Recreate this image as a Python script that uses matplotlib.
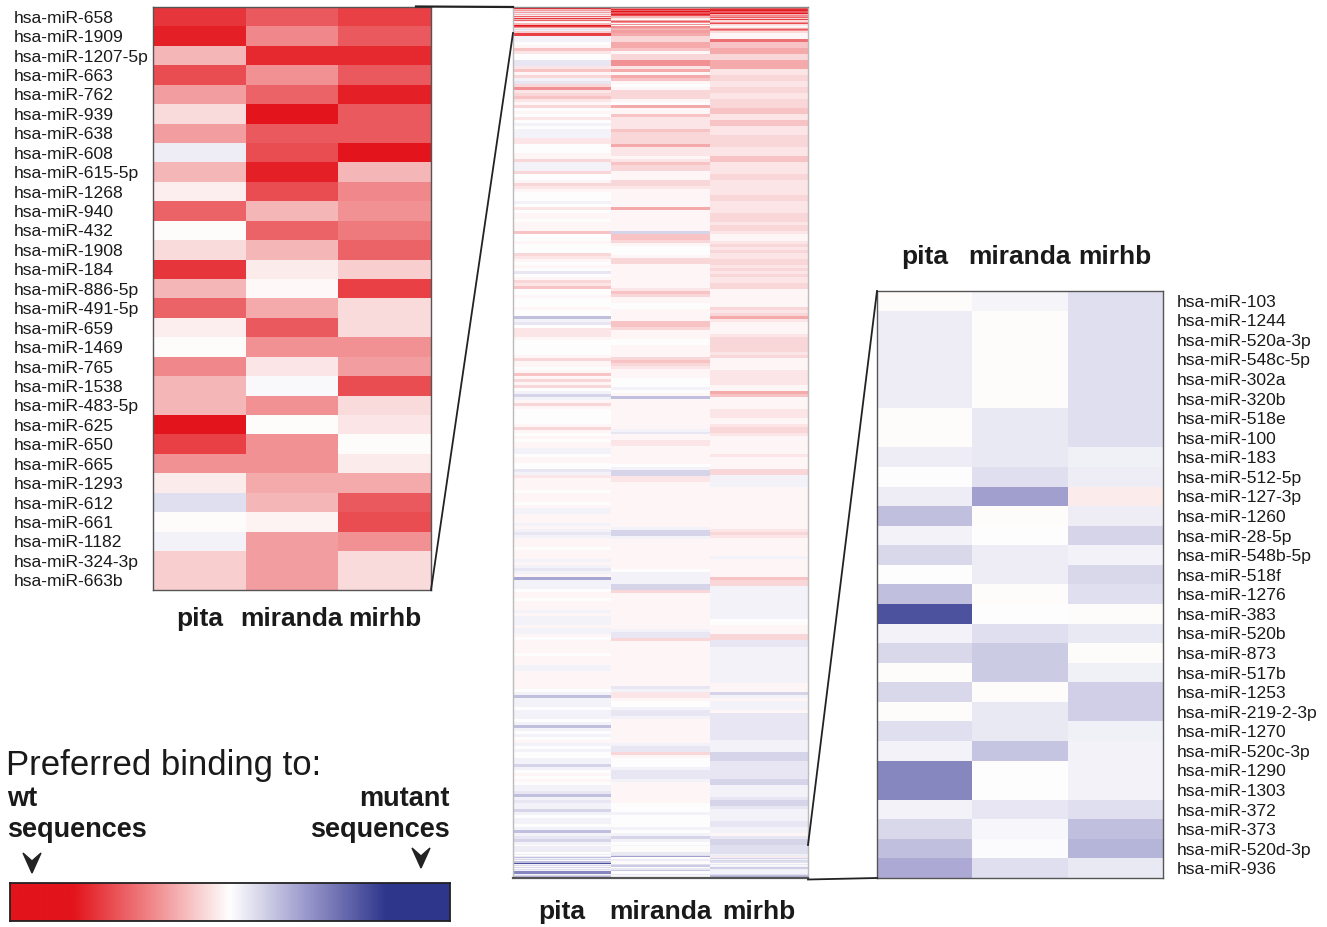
import numpy as np
import matplotlib
matplotlib.use('Agg')
import matplotlib.pyplot as plt
from matplotlib.colors import LinearSegmentedColormap
from matplotlib.patches import Polygon

plt.rcParams['font.family'] = ['Liberation Sans', 'DejaVu Sans']

W, H = 1327, 927
methods = ['pita', 'miranda', 'mirhb']

# ---- top 30 miRNAs (preferred binding to wt; negative = red) ----
top_mirnas = ['hsa-miR-658', 'hsa-miR-1909', 'hsa-miR-1207-5p', 'hsa-miR-663', 'hsa-miR-762',
              'hsa-miR-939', 'hsa-miR-638', 'hsa-miR-608', 'hsa-miR-615-5p', 'hsa-miR-1268',
              'hsa-miR-940', 'hsa-miR-432', 'hsa-miR-1908', 'hsa-miR-184', 'hsa-miR-886-5p',
              'hsa-miR-491-5p', 'hsa-miR-659', 'hsa-miR-1469', 'hsa-miR-765', 'hsa-miR-1538',
              'hsa-miR-483-5p', 'hsa-miR-625', 'hsa-miR-650', 'hsa-miR-665', 'hsa-miR-1293',
              'hsa-miR-612', 'hsa-miR-661', 'hsa-miR-1182', 'hsa-miR-324-3p', 'hsa-miR-663b']
top_pita = [-0.85, -0.95, -0.30, -0.75, -0.40, -0.15, -0.40, 0.08, -0.30, -0.07,
            -0.65, -0.02, -0.15, -0.85, -0.30, -0.65, -0.07, -0.02, -0.50, -0.30,
            -0.30, -1.00, -0.80, -0.45, -0.08, 0.15, -0.02, 0.06, -0.20, -0.20]
top_miranda = [-0.70, -0.50, -0.90, -0.45, -0.65, -1.00, -0.70, -0.75, -0.95, -0.75,
               -0.30, -0.65, -0.30, -0.08, -0.03, -0.35, -0.70, -0.45, -0.10, 0.03,
               -0.45, -0.02, -0.45, -0.45, -0.35, -0.30, -0.05, -0.40, -0.40, -0.40]
top_mirhb = [-0.80, -0.70, -0.90, -0.70, -0.95, -0.70, -0.70, -1.00, -0.30, -0.50,
             -0.45, -0.55, -0.65, -0.20, -0.80, -0.15, -0.15, -0.45, -0.40, -0.75,
             -0.15, -0.10, -0.02, -0.08, -0.35, -0.70, -0.75, -0.45, -0.15, -0.15]

# ---- bottom 30 miRNAs (preferred binding to mutant; positive = blue) ----
bottom_mirnas = ['hsa-miR-103', 'hsa-miR-1244', 'hsa-miR-520a-3p', 'hsa-miR-548c-5p', 'hsa-miR-302a',
                 'hsa-miR-320b', 'hsa-miR-518e', 'hsa-miR-100', 'hsa-miR-183', 'hsa-miR-512-5p',
                 'hsa-miR-127-3p', 'hsa-miR-1260', 'hsa-miR-28-5p', 'hsa-miR-548b-5p', 'hsa-miR-518f',
                 'hsa-miR-1276', 'hsa-miR-383', 'hsa-miR-520b', 'hsa-miR-873', 'hsa-miR-517b',
                 'hsa-miR-1253', 'hsa-miR-219-2-3p', 'hsa-miR-1270', 'hsa-miR-520c-3p', 'hsa-miR-1290',
                 'hsa-miR-1303', 'hsa-miR-372', 'hsa-miR-373', 'hsa-miR-520d-3p', 'hsa-miR-936']
bottom_pita = [-0.02, 0.08, 0.08, 0.08, 0.08, 0.08, -0.02, -0.02, 0.08, -0.01,
               0.08, 0.30, 0.06, 0.18, -0.01, 0.30, 0.85, 0.06, 0.18, -0.02,
               0.18, -0.02, 0.15, 0.06, 0.57, 0.57, 0.06, 0.18, 0.30, 0.40]
bottom_miranda = [0.05, -0.02, -0.02, -0.02, -0.02, -0.02, 0.10, 0.10, 0.10, 0.15,
                  0.45, -0.02, -0.01, 0.08, 0.08, -0.02, -0.01, 0.15, 0.25, 0.25,
                  -0.02, 0.10, 0.10, 0.28, -0.01, -0.01, 0.12, 0.04, 0.02, 0.15]
bottom_mirhb = [0.15, 0.15, 0.15, 0.15, 0.15, 0.15, 0.15, 0.15, 0.07, 0.08,
                -0.08, 0.08, 0.20, 0.06, 0.18, 0.15, -0.02, 0.10, -0.02, 0.07,
                0.22, 0.22, 0.07, 0.06, 0.06, 0.06, 0.15, 0.30, 0.35, 0.10]

# ---- all remaining miRNAs in the overview (coded levels) ----
level_codes = {'0': 0.0, '1': -0.04, '2': -0.10, '3': -0.17, '4': -0.25, '5': -0.35,
               '6': -0.45, '7': -0.60, '8': -0.80, '9': -1.00,
               'a': 0.06, 'b': 0.12, 'c': 0.20, 'd': 0.30, 'e': 0.42,
               'f': 0.55, 'g': 0.70, 'h': 0.85, 'i': 1.00}
mid_pita = ("8aa014200bb2413ab3623421301020"
            "a0aaa22000113aaa3001321000a020"
            "1101114001000321010b0132400100"
            "0100dab0222100000131101413130a"
            "ca1310000013101011aa01100ba211"
            "11011101aa111a1aba1110111a1aba"
            "1eaaa0110111a1aaa1aa1011110111"
            "aa1111110adaaa0aaa0ada0a01a0a0"
            "0aaca01010aabdabaaca0aa0adabca")
mid_miranda = ("533554133662515410133310511422"
               "224333352221243311133211111151"
               "111111c443100013311111111243110"
               "011114431110011113432111000a01"
               "d1111111111ab11221111110acc221"
               "11111111111111acca11111111110a"
               "aaacc3111111111111abb311111111"
               "1111111ba22100abba11111111abb3"
               "1000abbba1111111000a0000a0aca0")
mid_mirhb = ("117445533555223322332233344224"
             "422233332224422223322222332222"
             "333233211232322332323223311111"
             "132352111123333323111122222115"
             "411112221123321111112111133aaa"
             "a11111111111111232111111a11111"
             "1433aaaaaaaaaaa0011133bbaaaaaa"
             "aaaaaa111ca1aaa1bbbbbbbbbaaaac"
             "ccbbbbbbccaaaabccbaaaabbaa1bcc")

# scale limits (the colour bar shows a saturated margin beyond |1|)
VLIM = 1.4

ink = '#1a1a1a'
red_end = (227/255, 20/255, 27/255)
red_mid = (240/255, 135/255, 138/255)
blue_mid = (152/255, 150/255, 202/255)
blue_end = (46/255, 54/255, 140/255)


def pos(v):
    return (v + VLIM) / (2 * VLIM)


cmap = LinearSegmentedColormap.from_list('wtmut', [
    (0.0, red_end), (pos(-1.0), red_end), (pos(-0.5), red_mid), (0.5, (1, 1, 1)),
    (pos(0.5), blue_mid), (pos(1.0), blue_end), (1.0, blue_end)])
kw = dict(cmap=cmap, vmin=-VLIM, vmax=VLIM, aspect='auto', interpolation='nearest')


def px_axes(fig, x0, y0, x1, y1):
    return fig.add_axes([x0 / W, 1 - y1 / H, (x1 - x0) / W, (y1 - y0) / H])


fig = plt.figure(figsize=(W / 100, H / 100), dpi=100)

# ---------- left heatmap ----------
axL = px_axes(fig, 153, 7, 431, 590)
top_data = np.column_stack([top_pita, top_miranda, top_mirhb])
axL.imshow(top_data, **kw)
axL.set_yticks(range(len(top_mirnas)))
axL.set_yticklabels(top_mirnas, fontsize=12.6, color=ink)
for t in axL.get_yticklabels():
    t.set_ha('left')
axL.tick_params(axis='y', length=0, pad=100.5)
axL.set_xticks(range(3))
axL.set_xticklabels(methods, fontsize=19, fontweight='bold', color=ink)
axL.tick_params(axis='x', length=0, pad=12)
for s in axL.spines.values():
    s.set_color('#555555')
    s.set_linewidth(1.0)

# ---------- middle overview heatmap ----------
axM = px_axes(fig, 513, 7, 808, 878)
T = (33 - 7) / 871.0
B = (845 - 7) / 871.0
tops = [top_pita, top_miranda, top_mirhb]
bots = [bottom_pita, bottom_miranda, bottom_mirhb]
mids = [mid_pita, mid_miranda, mid_mirhb]
for c in range(3):
    axM.imshow(np.array(tops[c])[:, None], extent=(c, c + 1, T, 0), **kw)
    mid_vals = np.array([level_codes[ch] for ch in mids[c]])
    axM.imshow(mid_vals[:, None], extent=(c, c + 1, B, T), **kw)
    axM.imshow(np.array(bots[c])[:, None], extent=(c, c + 1, 1, B), **kw)
axM.set_xlim(0, 3)
axM.set_ylim(1, 0)
axM.set_yticks([])
axM.set_xticks([0.5, 1.5, 2.5])
axM.set_xticklabels(methods, fontsize=19, fontweight='bold', color=ink)
axM.tick_params(axis='x', length=0, pad=16)
for k, s in axM.spines.items():
    s.set_color('#bbbbbb')
    s.set_linewidth(1.0)
axM.spines['top'].set_color('#888888')
axM.spines['bottom'].set_color('#555555')
axM.spines['bottom'].set_linewidth(1.6)

# ---------- right heatmap ----------
axR = px_axes(fig, 877, 291, 1163, 878)
bot_data = np.column_stack([bottom_pita, bottom_miranda, bottom_mirhb])
axR.imshow(bot_data, **kw)
axR.yaxis.tick_right()
axR.set_yticks(range(len(bottom_mirnas)))
axR.set_yticklabels(bottom_mirnas, fontsize=12.6, color=ink)
axR.tick_params(axis='y', length=0, pad=10)
axR.xaxis.tick_top()
axR.set_xticks(range(3))
axR.set_xticklabels(methods, fontsize=19, fontweight='bold', color=ink)
axR.tick_params(axis='x', length=0, pad=16)
for s in axR.spines.values():
    s.set_color('#555555')
    s.set_linewidth(1.0)

# ---------- colour bar ----------
axC = px_axes(fig, 10, 883, 450, 921)
grad = np.linspace(-VLIM, VLIM, 512)[None, :]
axC.imshow(grad, cmap=cmap, vmin=-VLIM, vmax=VLIM, aspect='auto', interpolation='bilinear')
axC.set_xticks([])
axC.set_yticks([])
for s in axC.spines.values():
    s.set_color('#222222')
    s.set_linewidth(1.3)

# ---------- overlay: zoom lines, arrows, legend text ----------
ov = fig.add_axes([0, 0, 1, 1])
ov.set_xlim(0, W)
ov.set_ylim(H, 0)
ov.axis('off')
ov.patch.set_alpha(0)
lc = '#222222'
ov.plot([416, 513], [6.5, 7], color=lc, lw=1.6)
ov.plot([431, 513], [590, 33], color=lc, lw=1.3)
ov.plot([877, 808], [291, 845], color=lc, lw=1.3)
ov.plot([877, 808], [878, 879.5], color=lc, lw=1.3)

for (cx, ty) in [(32, 853), (421, 848)]:
    ov.add_patch(Polygon([(cx - 9, ty), (cx, ty + 8), (cx + 9, ty), (cx, ty + 20)],
                         closed=True, color=lc))

ov.text(6, 775, 'Preferred binding to:', fontsize=25, color=ink, va='baseline', ha='left')
ov.text(7, 806, 'wt', fontsize=19.5, fontweight='bold', color=ink, va='baseline', ha='left')
ov.text(7, 837, 'sequences', fontsize=19.5, fontweight='bold', color=ink, va='baseline', ha='left')
ov.text(450, 806, 'mutant', fontsize=19.5, fontweight='bold', color=ink, va='baseline', ha='right')
ov.text(450, 837, 'sequences', fontsize=19.5, fontweight='bold', color=ink, va='baseline', ha='right')

fig.savefig('out.png', dpi=100)
